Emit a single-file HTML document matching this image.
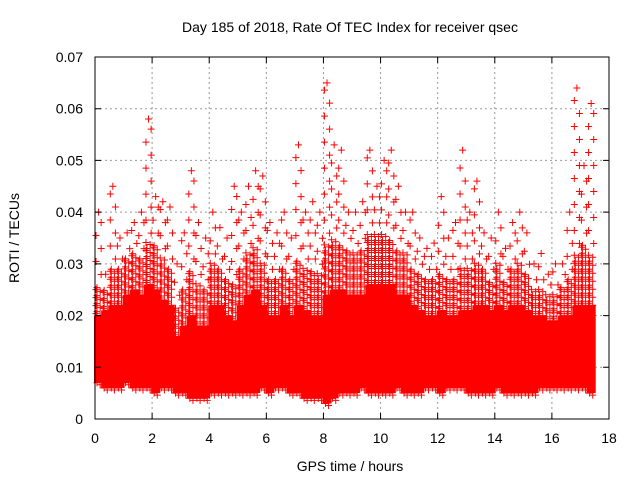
<!DOCTYPE html>
<html><head><meta charset="utf-8"><style>
html,body{margin:0;padding:0;background:#fff;}
svg{display:block;font-family:"Liberation Sans",sans-serif;}
</style></head><body>
<svg id="chart" width="640" height="480" viewBox="0 0 640 480">
<rect x="0" y="0" width="640" height="480" fill="#fff"/>
<text x="350" y="32" font-size="14" text-anchor="middle" fill="#000">Day 185 of 2018, Rate Of TEC Index for receiver qsec</text>
<g id="grid"></g>
<g id="marks"></g>
<g id="axes"></g>
<text x="350" y="471" font-size="14" text-anchor="middle" fill="#000">GPS time / hours</text>
<text x="19" y="238" font-size="14" text-anchor="middle" fill="#000" transform="rotate(-90 19 238)">ROTI / TECUs</text>
</svg>
<script>
// bin start times in hours (0.25 h bins)
const binHours = [0,0.25,0.5,0.75,1,1.25,1.5,1.75,2,2.25,2.5,2.75,3,3.25,3.5,3.75,4,4.25,4.5,4.75,5,5.25,5.5,5.75,6,6.25,6.5,6.75,7,7.25,7.5,7.75,8,8.25,8.5,8.75,9,9.25,9.5,9.75,10,10.25,10.5,10.75,11,11.25,11.5,11.75,12,12.25,12.5,12.75,13,13.25,13.5,13.75,14,14.25,14.5,14.75,15,15.25,15.5,15.75,16,16.25,16.5,16.75,17,17.25];
const lowVals = [0.007,0.006,0.006,0.006,0.007,0.006,0.006,0.006,0.005,0.006,0.006,0.005,0.005,0.004,0.004,0.004,0.005,0.005,0.005,0.005,0.005,0.005,0.005,0.006,0.005,0.006,0.006,0.005,0.005,0.004,0.004,0.004,0.003,0.004,0.005,0.005,0.005,0.006,0.005,0.005,0.005,0.005,0.006,0.005,0.005,0.005,0.006,0.006,0.005,0.006,0.006,0.006,0.005,0.005,0.005,0.005,0.006,0.005,0.005,0.005,0.005,0.005,0.006,0.006,0.006,0.006,0.006,0.006,0.006,0.005];
const hiVals = [0.020,0.021,0.022,0.022,0.024,0.025,0.024,0.026,0.025,0.023,0.022,0.016,0.018,0.020,0.018,0.018,0.022,0.022,0.020,0.019,0.022,0.024,0.025,0.022,0.020,0.020,0.022,0.020,0.022,0.021,0.020,0.020,0.024,0.025,0.025,0.024,0.024,0.024,0.026,0.026,0.026,0.026,0.024,0.024,0.022,0.021,0.020,0.020,0.021,0.020,0.020,0.021,0.021,0.022,0.022,0.021,0.022,0.021,0.022,0.022,0.021,0.020,0.020,0.019,0.019,0.020,0.020,0.022,0.022,0.022];
const upVals = [0.026,0.025,0.029,0.029,0.031,0.032,0.031,0.034,0.034,0.031,0.029,0.022,0.025,0.029,0.026,0.025,0.030,0.029,0.027,0.026,0.029,0.032,0.033,0.030,0.027,0.027,0.029,0.027,0.031,0.029,0.029,0.028,0.034,0.035,0.034,0.033,0.032,0.033,0.036,0.036,0.036,0.035,0.033,0.032,0.029,0.028,0.027,0.027,0.028,0.027,0.027,0.029,0.029,0.030,0.029,0.027,0.030,0.027,0.029,0.030,0.028,0.025,0.025,0.024,0.024,0.026,0.027,0.032,0.034,0.032];
const peakVals = [0.040,0.028,0.045,0.035,0.036,0.038,0.040,0.058,0.043,0.042,0.041,0.030,0.036,0.048,0.038,0.035,0.040,0.037,0.035,0.045,0.040,0.045,0.048,0.047,0.038,0.036,0.040,0.035,0.053,0.040,0.042,0.040,0.065,0.053,0.052,0.040,0.040,0.042,0.052,0.045,0.050,0.052,0.045,0.040,0.040,0.035,0.033,0.034,0.043,0.035,0.038,0.052,0.040,0.046,0.036,0.035,0.040,0.033,0.038,0.040,0.036,0.030,0.032,0.028,0.030,0.030,0.040,0.064,0.049,0.061];
const xTickLabels = ["0","2","4","6","8","10","12","14","16","18"];
const yTickLabels = ["0","0.01","0.02","0.03","0.04","0.05","0.06","0.07"];

const X0=95, X1=609, Y0=419, Y1=57, XMAX=18, YMAX=0.07, BIN=0.25;
const sx = h => X0 + h/XMAX*(X1-X0);
const sy = v => Y0 - v/YMAX*(Y0-Y1);
const NS="http://www.w3.org/2000/svg";
function mk(tag, parent){const e=document.createElementNS(NS,tag);parent.appendChild(e);return e;}
const grid=document.getElementById('grid'), marks=document.getElementById('marks'), axes=document.getElementById('axes');

xTickLabels.forEach((t)=>{
  const x=sx(+t);
  if(+t>0 && +t<XMAX){
    const g=mk('line',grid);
    
    
    g.setAttribute('x1',x);g.setAttribute('x2',x);g.setAttribute('y1',Y1);g.setAttribute('y2',Y0);
    g.setAttribute('stroke','#999');g.setAttribute('stroke-dasharray','2,3');
  }
  const tk=mk('path',axes);
  
  
  tk.setAttribute('d',`M${x},${Y0}v-6M${x},${Y1}v6`);tk.setAttribute('stroke','#000');
  const l=mk('text',axes);
  
  
  l.setAttribute('x',x);l.setAttribute('y',Y0+24);l.setAttribute('font-size','14');l.setAttribute('text-anchor','middle');
  l.textContent=t;
});
yTickLabels.forEach((t)=>{
  const y=sy(+t);
  if(+t>0 && +t<YMAX-1e-9){
    const g=mk('line',grid);
    
    
    g.setAttribute('x1',X0);g.setAttribute('x2',X1);g.setAttribute('y1',y);g.setAttribute('y2',y);
    g.setAttribute('stroke','#999');g.setAttribute('stroke-dasharray','2,3');
  }
  const tk=mk('path',axes);
  
  
  tk.setAttribute('d',`M${X0},${y}h6M${X1},${y}h-6`);tk.setAttribute('stroke','#000');
  const l=mk('text',axes);
  
  
  l.setAttribute('x',X0-12);l.setAttribute('y',y+5);l.setAttribute('font-size','14');l.setAttribute('text-anchor','end');
  l.textContent=t;
});

let d='';
const plus=(x,y)=>{d+=`M${x-3.5},${y}h7M${x},${y-3.5}v7`;};
binHours.forEach((h,i)=>{
  const xa=sx(h), xb=sx(h+BIN);
  const band=mk('rect',marks);
  
  
  band.setAttribute('x',xa-1);band.setAttribute('width',xb-xa+2);
  band.setAttribute('y',sy(hiVals[i]));band.setAttribute('height',sy(lowVals[i])-sy(hiVals[i]));
  band.setAttribute('fill','#f00');
  plus(xa+2,sy(lowVals[i])); plus(xb-2,sy(lowVals[i])+2);
  let k=0;
  for(let y=sy(hiVals[i]); y>=sy(upVals[i]); y-=4,k++){ plus(k%2?xa+2:xb-2,y); if(k%2===0) plus(xa+1,y-2); }
  k=0;
  const yp=sy(peakVals[i]);
  for(let y=sy(upVals[i])-10; y>yp+7; y-=13,k++){ plus(k%2?xa+1:xb-1,y); }
  plus((xa+xb)/2,yp);
});
const p=mk('path',marks);


p.setAttribute('d',d);p.setAttribute('stroke','#f00');p.setAttribute('stroke-width','1');p.setAttribute('fill','none');

const fr=mk('rect',axes);


fr.setAttribute('x',X0);fr.setAttribute('y',Y1);fr.setAttribute('width',X1-X0);fr.setAttribute('height',Y0-Y1);
fr.setAttribute('fill','none');fr.setAttribute('stroke','#000');
</script>
</body></html>
